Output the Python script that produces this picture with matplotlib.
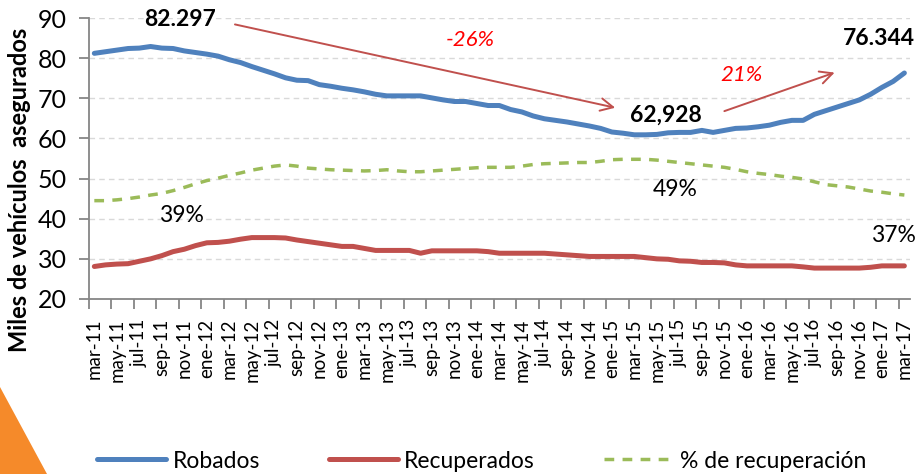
import matplotlib
matplotlib.use("Agg")
import matplotlib.pyplot as plt
from matplotlib.patches import Polygon
import numpy as np

plt.rcParams['font.family'] = ['Lato', 'DejaVu Sans']

# meses mar-11 .. mar-17
meses = ['ene', 'feb', 'mar', 'abr', 'may', 'jun', 'jul', 'ago', 'sep', 'oct', 'nov', 'dic']
etiquetas = []
for i in range(73):
    k = i + 2
    etiquetas.append(f"{meses[k % 12]}-{11 + k // 12}")

robados = [81.2, 81.6, 82.0, 82.4, 82.5, 82.9, 82.5, 82.4, 81.8, 81.4,
           81.0, 80.5, 79.6, 78.9, 77.9, 77.0, 76.1, 75.1, 74.5, 74.4,
           73.4, 73.0, 72.5, 72.1, 71.6, 71.0, 70.6, 70.6, 70.6, 70.6,
           70.1, 69.6, 69.2, 69.2, 68.7, 68.2, 68.2, 67.2, 66.6, 65.6,
           64.9, 64.5, 64.1, 63.6, 63.1, 62.5, 61.6, 61.3, 60.9, 60.9,
           61.0, 61.4, 61.5, 61.5, 62.0, 61.5, 62.0, 62.5, 62.6, 62.9,
           63.3, 64.0, 64.5, 64.5, 66.0, 66.9, 67.8, 68.7, 69.6, 71.0,
           72.7, 74.2, 76.3]

recuperados = [28.1, 28.5, 28.7, 28.8, 29.4, 30.0, 30.8, 31.8, 32.4, 33.3,
               34.0, 34.1, 34.4, 34.9, 35.3, 35.3, 35.3, 35.2, 34.7, 34.3,
               33.9, 33.5, 33.1, 33.1, 32.6, 32.1, 32.1, 32.1, 32.1, 31.4,
               32.0, 32.0, 32.0, 32.0, 32.0, 31.8, 31.4, 31.4, 31.4, 31.4,
               31.4, 31.2, 31.0, 30.8, 30.6, 30.6, 30.6, 30.6, 30.6, 30.3,
               30.0, 29.9, 29.5, 29.4, 29.1, 29.1, 29.0, 28.5, 28.25, 28.25,
               28.25, 28.25, 28.25, 28.0, 27.7, 27.7, 27.7, 27.7, 27.7, 27.9,
               28.25, 28.25, 28.25]

# % de recuperacion, dibujado en la escala del eje principal
pct_recuperacion = [44.5, 44.5, 44.7, 45.0, 45.4, 45.9, 46.3, 47.0, 47.8, 48.7,
                    49.5, 50.1, 50.8, 51.4, 52.1, 52.6, 53.1, 53.4, 53.1, 52.6,
                    52.4, 52.2, 52.1, 52.0, 51.9, 52.0, 52.2, 51.9, 51.7, 51.7,
                    51.9, 52.1, 52.3, 52.5, 52.7, 52.8, 52.8, 52.8, 53.1, 53.5,
                    53.7, 53.8, 53.9, 54.0, 54.0, 54.3, 54.7, 54.8, 54.8, 54.8,
                    54.6, 54.3, 54.0, 53.7, 53.4, 53.1, 52.8, 52.3, 51.7, 51.3,
                    51.0, 50.6, 50.3, 49.9, 49.2, 48.5, 48.2, 47.9, 47.4, 46.9,
                    46.6, 46.2, 45.9]

x = np.arange(len(robados))

fig = plt.figure(figsize=(9.16, 4.74), dpi=100)
fig.patches.append(Polygon([(0, 1 - 387 / 474), (0, 0), (47 / 916, 0)],
                           closed=True, transform=fig.transFigure,
                           facecolor='#F58A2A', edgecolor='none', zorder=0))
ax = fig.add_axes([88.7 / 916, 1 - 299 / 474, (910 - 88.7) / 916, 281 / 474])

l1, = ax.plot(x, robados, color='#4F81BD', lw=3.6, solid_capstyle='round', label='Robados', zorder=4)
l2, = ax.plot(x, recuperados, color='#C0504D', lw=3.6, solid_capstyle='round', label='Recuperados', zorder=4)
l3, = ax.plot(x, pct_recuperacion, color='#9BBB59', lw=2.5, dashes=(2.8, 2.4),
              dash_capstyle='butt', label='% de recuperación', zorder=3)

ax.set_xlim(-0.5, 72.5)
ax.set_ylim(20, 90)
ax.set_yticks(range(20, 91, 10))
ax.set_xticks(x[::2])
ax.set_xticklabels(etiquetas[::2], rotation=90, fontsize=13.5)
ax.set_xticks(np.arange(-0.5, 72, 2), minor=True)
ax.tick_params(axis='x', which='major', length=0, pad=14)
ax.tick_params(axis='x', which='minor', length=7, width=1.3, color='#868686')
ax.tick_params(axis='y', length=7, width=1.3, color='#868686', labelsize=18, pad=9)

for s in ['top', 'right']:
    ax.spines[s].set_visible(False)
for s in ['left', 'bottom']:
    ax.spines[s].set_color('#868686')
    ax.spines[s].set_linewidth(1.3)
for v in range(30, 91, 10):
    ax.axhline(v, color='#D9D9D9', lw=1.0, ls=(0, (4, 3)), zorder=1)

fig.text(20 / 916, 1 - 190 / 474, 'Miles de vehículos  asegurados', rotation=90,
         ha='center', va='center', fontsize=17, fontweight='bold')

# anotaciones
ax.text(7.6, 89.75, '82.297', ha='center', va='center', fontsize=16.5, fontweight='bold')
ax.text(50.8, 65.8, '62,928', ha='center', va='center', fontsize=16.5, fontweight='bold')
ax.text(69.7, 85.0, '76.344', ha='center', va='center', fontsize=16.5, fontweight='bold')
ax.text(33.4, 84.5, '-26%', ha='center', va='center', fontsize=16, style='italic', color='#FF0000')
ax.text(57.5, 75.8, '21%', ha='center', va='center', fontsize=16, style='italic', color='#FF0000')
ax.text(7.7, 40.7, '39%', ha='center', va='center', fontsize=16.5)
ax.text(51.6, 47.4, '49%', ha='center', va='center', fontsize=16.5)
ax.text(71.0, 35.9, '37%', ha='center', va='center', fontsize=16.5)

flecha = dict(arrowstyle='->,head_length=0.9,head_width=0.45', color='#C0504D', lw=1.4, shrinkA=0, shrinkB=0)
ax.annotate('', xy=(46.3, 67.65), xytext=(12.5, 88.4), arrowprops=flecha, annotation_clip=False)
ax.annotate('', xy=(65.8, 76.4), xytext=(56.0, 66.8), arrowprops=flecha, annotation_clip=False)

fig.legend(handles=[l1, l2, l3], loc='center left', bbox_to_anchor=(97 / 916, 1 - 461 / 474),
           ncol=3, frameon=False, fontsize=16.5, handlelength=3.0, handletextpad=0.3,
           columnspacing=3.0, borderpad=0, borderaxespad=0)

fig.savefig('out.png', dpi=100)
plt.close()
